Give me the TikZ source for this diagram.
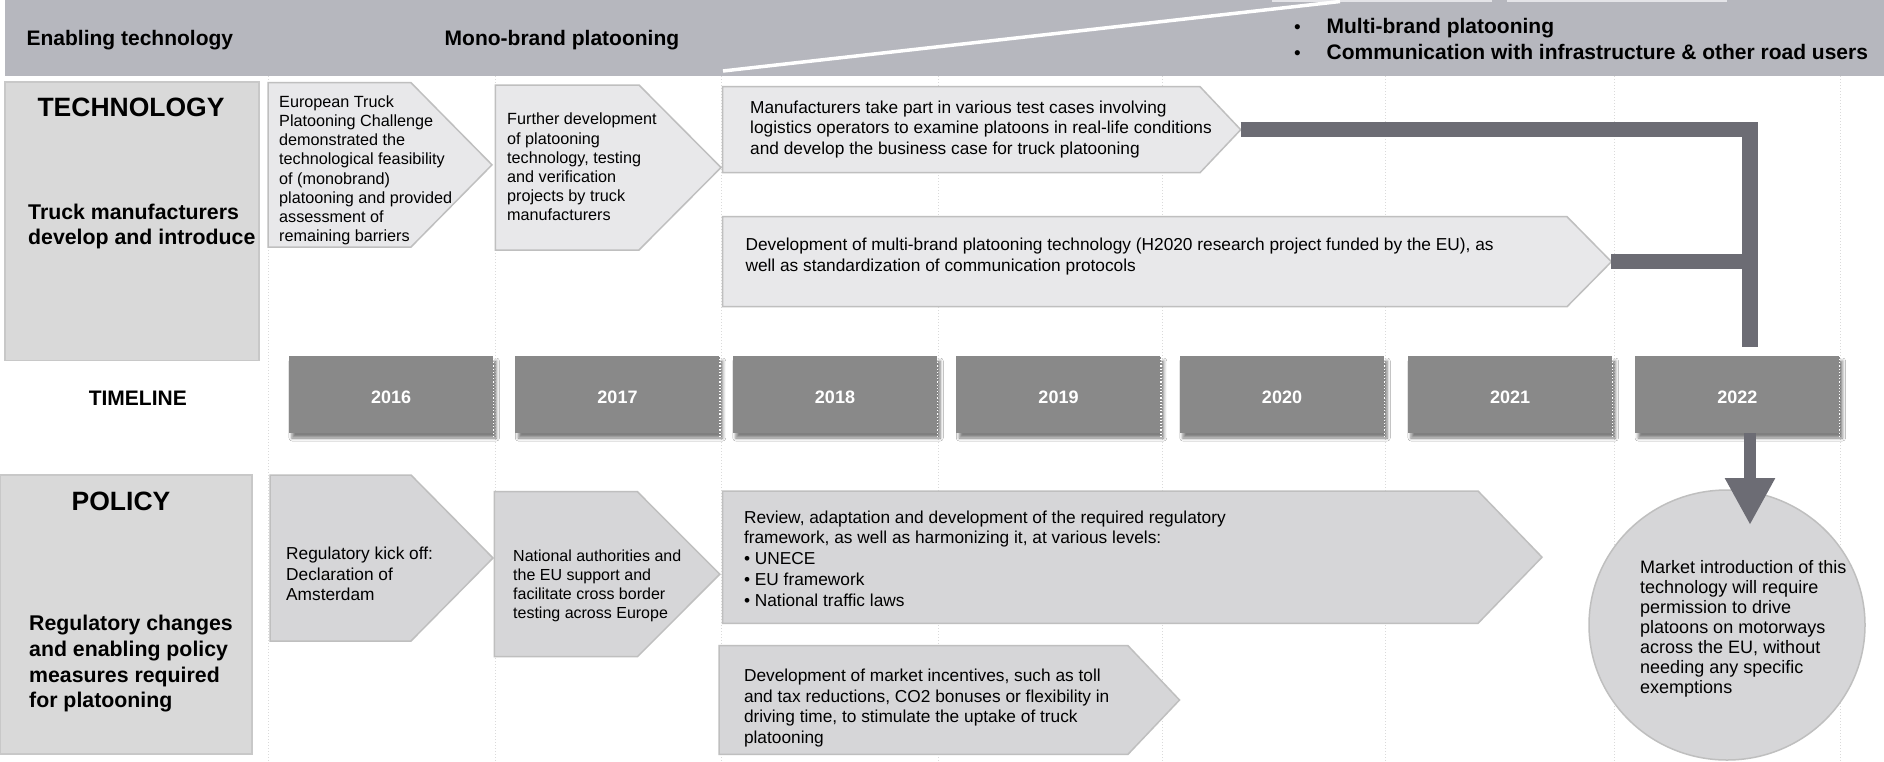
\documentclass[tikz,border=0pt]{standalone}
\usepackage{fontspec}
\setmainfont{Liberation Sans}[Ligatures=NoCommon]
\usetikzlibrary{arrows.meta,shapes.geometric,shadows.blur}

\definecolor{banner}{HTML}{B6B7BE}
\definecolor{topstrip}{HTML}{E4E4E8}
\definecolor{techfill}{HTML}{E8E8EA}
\definecolor{polfill}{HTML}{D6D6D8}
\definecolor{headfill}{HTML}{D9D9D9}
\definecolor{headedge}{HTML}{C8C8C8}
\definecolor{edge}{HTML}{BFBFBF}
\definecolor{yearfill}{HTML}{898989}
\definecolor{link}{HTML}{6C6C74}
\definecolor{gridc}{HTML}{DADADA}

\newcommand{\fsz}[2]{\fontsize{#1}{#2}\selectfont}
\newcommand{\hdrbullet}{\makebox[32.4pt][l]{\mdseries\fsz{19}{21}•}}

% chevron: name, style, left, top, corner x, tip x, bottom
\newcommand{\chevron}[7]{%
  \draw[#2] (#3,#4) -- (#5,#4) -- (#6,{(#4+#7)/2}) -- (#5,#7) -- (#3,#7) -- cycle;
  \coordinate (#1-tip) at (#6,{(#4+#7)/2});
}

\begin{document}
\begin{tikzpicture}[x=1pt,y=-1pt,
  txt/.style={anchor=north west, inner sep=0pt, align=left},
  one/.style={inner sep=0pt},
  techchev/.style={fill=techfill, draw=edge, line width=1.5pt},
  polchev/.style={fill=polfill, draw=edge, line width=1.5pt},
  headbox/.style={fill=headfill, draw=headedge, line width=1.5pt},
  yearbox/.style={fill=yearfill, minimum width=204.5pt, minimum height=77pt,
    inner sep=0pt, text=white, font=\bfseries\fsz{18}{20},
    blur shadow={shadow xshift=3pt, shadow yshift=-5pt, shadow blur radius=3pt, shadow opacity=50}},
  yearedge/.style={draw=white, line width=1.2pt, dotted},
  linkbar/.style={draw=link, line width=15.5pt, line join=miter},
  linkarrow/.style={draw=link, line width=12pt, -{Triangle[width=47pt,length=47pt]}},
  gridline/.style={draw=gridc, line width=1pt, dotted},
  bannertxt/.style={anchor=base west, inner sep=0pt, font=\bfseries\fsz{21}{23}},
  small/.style={font=\fsz{16.2}{19.1}},
  body/.style={font=\fsz{17.3}{20.8}},
]
\useasboundingbox (0,0) rectangle (1884,761);
\fill[white] (0,0) rectangle (1884,761);

% column grid
\foreach \gx in {268,495,721,938,1162,1385,1614,1840}
  \draw[gridline] (\gx,76) -- (\gx,761);

% header banner
\fill[banner] (5,0) rectangle (1884,75.5);
\fill[topstrip] (1272,0) rectangle (1492,2);
\fill[topstrip] (1507,0) rectangle (1727,2);
\draw[white, line width=3.5pt] (723,71) -- (1340,1.5);
\node[bannertxt] (hdr1) at (26.4,45.9) {Enabling technology};
\node[bannertxt] (hdr2) at (444.5,45.7) {Mono-brand platooning};
\node[bannertxt] (hdr3a) at (1294,33.4) {\hdrbullet Multi-brand platooning};
\node[bannertxt] (hdr3b) at (1294,59.8) {\hdrbullet Communication with infrastructure \& other road users};

% technology row
\draw[headbox] (5,82) rectangle (259,360.7);
\node[one, anchor=base, font=\bfseries\fsz{26.5}{30}] (techtitle) at (131,116.2) {TECHNOLOGY};
\node[txt, font=\bfseries\fsz{21.3}{25}] (techsub) at (28,203.8) {Truck manufacturers\\develop and introduce};

\chevron{T1}{techchev}{268}{82.7}{411}{492}{247}
\node[txt, small] (T1-text) at (279,95.7) {European Truck\\Platooning Challenge\\demonstrated the\\technological feasibility\\of (monobrand)\\platooning and provided\\assessment of\\remaining barriers};

\chevron{T2}{techchev}{495.4}{85}{639}{721}{250}
\node[txt, small] (T2-text) at (507,113) {Further development\\of platooning\\technology, testing\\and verification\\projects by truck\\manufacturers};

\chevron{T3}{techchev}{722.7}{86.7}{1200}{1240.7}{172.7}
\node[txt, body] (T3-text) at (750,100.3) {Manufacturers take part in various test cases involving\\logistics operators to examine platoons in real-life conditions\\and develop the business case for truck platooning};

\chevron{T4}{techchev}{722.7}{216.7}{1567}{1611.4}{306.7}
\node[txt, body] (T4-text) at (745.3,237.6) {Development of multi-brand platooning technology (H2020 research project funded by the EU), as\\well as standardization of communication protocols};

% timeline row
\node[one, anchor=base, font=\bfseries\fsz{21}{23}] (tltitle) at (137.8,405.5) {TIMELINE};
\foreach \yr/\cx in {2016/391.2,2017/617.5,2018/835,2019/1058.5,2020/1282,2021/1510.2,2022/1737.3}{
  \node[yearbox] (y\yr) at (\cx,394.5) {\raisebox{-3pt}[\height][\depth]{\yr}};
  \draw[yearedge] (y\yr.north east) -- ([yshift=-5pt]y\yr.south east);
}

% policy row
\draw[headbox] (0,475) rectangle (252,754);
\node[one, anchor=base, font=\bfseries\fsz{26.5}{30}] (poltitle) at (121,510.2) {POLICY};
\node[txt, font=\bfseries\fsz{21.3}{25.7}] (polsub) at (29,615.1) {Regulatory changes\\and enabling policy\\measures required\\for platooning};

\chevron{P1}{polchev}{270}{475}{411}{493}{641}
\node[txt, font=\fsz{17.3}{20.5}] (P1-text) at (286,547) {Regulatory kick off:\\Declaration of\\Amsterdam};

\chevron{P2}{polchev}{494.4}{491.7}{637.4}{719.8}{656.7}
\node[txt, font=\fsz{16}{18.9}] (P2-text) at (513,550) {National authorities and\\the EU support and\\facilitate cross border\\testing across Europe};

\chevron{P3}{polchev}{722.7}{491}{1478}{1542}{623.3}
\node[txt, body] (P3-text) at (743.8,510.3) {Review, adaptation and development of the required regulatory\\framework, as well as harmonizing it, at various levels:\\• UNECE\\• EU framework\\• National traffic laws};

\chevron{P4}{polchev}{719}{645.7}{1128}{1179.5}{754.3}
\node[txt, body] (P4-text) at (743.8,668.6) {Development of market incentives, such as toll\\and tax reductions, CO2 bonuses or flexibility in\\driving time, to stimulate the uptake of truck\\platooning};

% market introduction outcome
\node[ellipse, fill=polfill, draw=edge, line width=1.5pt, minimum width=276pt, minimum height=270pt, inner sep=0pt] (goal) at (1727,625) {};
\node[txt, font=\fsz{18}{20}] (goal-text) at (1640,560) {Market introduction of this\\technology will require\\permission to drive\\platoons on motorways\\across the EU, without\\needing any specific\\exemptions};

% connectors from the technology tracks down to the outcome
\coordinate (drop) at (1750,347);
\draw[linkbar] (T3-tip) -| (drop);
\draw[linkbar] (T4-tip) -- (T4-tip -| drop);
\coordinate (arrowtip) at (1750,525);
\draw[linkarrow] (y2022.south -| arrowtip) -- (arrowtip);
\end{tikzpicture}
\end{document}
